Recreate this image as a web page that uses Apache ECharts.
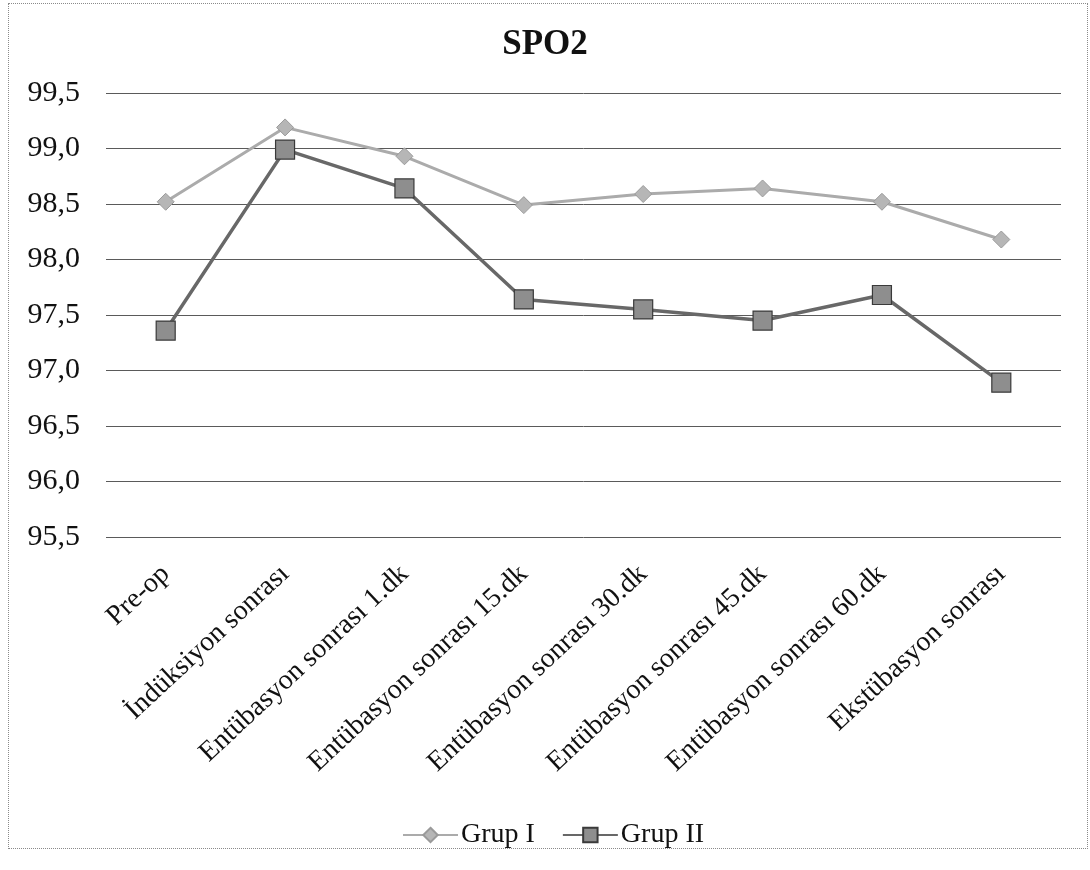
<!DOCTYPE html>
<html>
<head>
<meta charset="utf-8">
<script src="https://cdn.jsdelivr.net/npm/echarts@6/dist/echarts.min.js"></script>
<style>
  html, body { margin: 0; padding: 0; background: #fff; }
  #frame { position: absolute; left: 8px; top: 3px; width: 1080px; height: 846px; border: 1px dotted #8a8a8a; box-sizing: border-box; }
  #chart { position: absolute; left: 0; top: 0; width: 1090px; height: 870px; }
</style>
</head>
<body>
<div id="frame"></div>
<div id="chart"></div>
<script>
// SpO2 measurements per time point for the two groups
const categories = [
  'Pre-op',
  'İndüksiyon sonrası',
  'Entübasyon sonrası 1.dk',
  'Entübasyon sonrası 15.dk',
  'Entübasyon sonrası 30.dk',
  'Entübasyon sonrası 45.dk',
  'Entübasyon sonrası 60.dk',
  'Ekstübasyon sonrası'
];
const grupI  = [98.52, 99.19, 98.93, 98.49, 98.59, 98.64, 98.52, 98.18];
const grupII = [97.36, 98.99, 98.64, 97.64, 97.55, 97.45, 97.68, 96.89];
const seriesNames = ['Grup I', 'Grup II'];
const yTicks = { min: 95.5, max: 99.5, step: 0.5 };

const serif = '"Liberation Serif", "DejaVu Serif", serif';
const chart = echarts.init(document.getElementById('chart'), null, { renderer: 'canvas' });

chart.setOption({
  backgroundColor: 'transparent',
  animation: false,
  title: {
    text: 'SPO2',
    left: 'center',
    top: 22,
    textStyle: { fontFamily: serif, fontSize: 35, fontWeight: 'bold', color: '#111' }
  },
  legend: {
    left: 397,
    top: 816,
    itemWidth: 55,
    itemHeight: 18,
    itemGap: 27,
    textStyle: { fontFamily: serif, fontSize: 28, color: '#111', padding: [0, 0, 0, -2] },
    data: seriesNames
  },
  grid: { left: 106, right: 29, top: 93, bottom: 333, containLabel: false },
  xAxis: {
    type: 'category',
    data: categories,
    boundaryGap: true,
    axisLine: { show: false },
    axisTick: { show: false },
    axisLabel: {
      rotate: 43,
      interval: 0,
      margin: 33,
      fontFamily: serif,
      fontSize: 28,
      color: '#111'
    }
  },
  yAxis: {
    type: 'value',
    min: yTicks.min,
    max: yTicks.max,
    interval: yTicks.step,
    axisLine: { show: false },
    axisTick: { show: false },
    axisLabel: {
      margin: 26,
      fontFamily: serif,
      fontSize: 30,
      color: '#111',
      formatter: v => v.toFixed(1).replace('.', ',')
    },
    splitLine: { lineStyle: { color: '#5a5a5a', width: 1 } }
  },
  series: [
    {
      name: seriesNames[0],
      type: 'line',
      data: grupI,
      symbol: 'diamond',
      symbolSize: 17,
      lineStyle: { color: '#ababab', width: 3 },
      itemStyle: { color: '#b6b6b6', borderColor: '#9a9a9a', borderWidth: 1 },
      z: 3
    },
    {
      name: seriesNames[1],
      type: 'line',
      data: grupII,
      symbol: 'rect',
      symbolSize: 19,
      lineStyle: { color: '#686868', width: 3.5 },
      itemStyle: { color: '#8e8e8e', borderColor: '#3a3a3a', borderWidth: 1.2 },
      z: 4
    }
  ]
});
</script>
</body>
</html>
